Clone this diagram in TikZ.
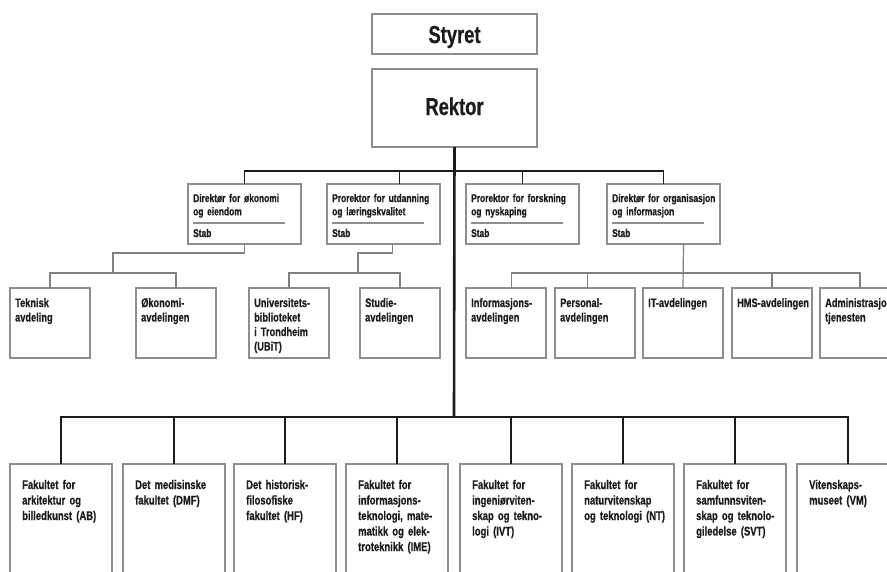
\documentclass[tikz,border=0pt]{standalone}
\usepackage{fontspec}
\newfontfamily\cond{Liberation Sans Bold}[FakeStretch=0.75,FakeBold=0.6]
\definecolor{bordergray}{HTML}{8E8E8E}
\definecolor{linegray}{HTML}{808080}
\definecolor{inkblack}{HTML}{1C1C1C}
\begin{document}
\begin{tikzpicture}[x=1pt,y=-1pt,
  box/.style={draw=bordergray, line width=1.2pt, fill=white, inner sep=0pt, outer sep=0pt, anchor=north west},
  toptext/.style={font=\cond\fontsize{24.5}{28}\selectfont, text=inkblack, anchor=base, inner sep=0pt},
  ltwo/.style={font=\cond\fontsize{11.2}{13.3}\selectfont, text=inkblack, anchor=base west, inner sep=0pt, text width=130pt, align=left},
  lthree/.style={font=\cond\fontsize{12.3}{14.5}\selectfont, text=inkblack, anchor=base west, inner sep=0pt, text width=130pt, align=left},
  lfour/.style={font=\cond\fontsize{12.6}{15.5}\selectfont, text=inkblack, anchor=base west, inner sep=0pt, text width=130pt, align=left},
  thickline/.style={line width=2.6pt, inkblack},
  midline/.style={line width=1.8pt, inkblack},
  thinline/.style={line width=1.2pt, linegray},
  sepline/.style={line width=1.2pt, bordergray}
]
\useasboundingbox (0,0) rectangle (887,571);
\clip (0,0) rectangle (887,571);

% top
\node[box, minimum width=165pt, minimum height=40pt] (styret) at (372,14) {};
\node[toptext] (styrett) at (454.5,43) {Styret};
\node[box, minimum width=165pt, minimum height=78pt] (rektor) at (372,69) {};
\node[toptext] (rektort) at (454.5,115) {Rektor};

% level 2
\foreach \n/\x/\txt in {dok/188/{Direktør for økonomi\\og eiendom},
                        pul/327/{Prorektor for utdanning\\og læringskvalitet},
                        pfn/466/{Prorektor for forskning\\og nyskaping},
                        dio/607/{Direktør for organisasjon\\og informasjon}}{
  \node[box, minimum width=113pt, minimum height=60pt] (\n) at (\x,184) {};
  \node[ltwo] (\n-t) at ([shift={(5,18)}]\n.north west) {\txt};
  \draw[sepline] ([shift={(5,39)}]\n.north west) -- ++(92,0);
  \node[ltwo] (\n-s) at ([shift={(5,53)}]\n.north west) {Stab};
}

% level 3
\foreach \n/\x/\txt in {tek/10/{Teknisk\\avdeling},
                        oko/136/{Økonomi-\\avdelingen},
                        ubit/249/{Universitets-\\biblioteket\\i Trondheim\\(UBiT)},
                        stud/360/{Studie-\\avdelingen},
                        info/466/{Informasjons-\\avdelingen},
                        pers/555/{Personal-\\avdelingen},
                        it/643/{IT-avdelingen},
                        hms/732/{HMS-avdelingen},
                        adm/820/{Administrasjons-\\tjenesten}}{
  \node[box, minimum width=80pt, minimum height=70pt] (\n) at (\x,288) {};
  \node[lthree] (\n-t) at ([shift={(5,19)}]\n.north west) {\txt};
}

% faculties
\foreach \n/\x/\txt in {ab/10/{Fakultet for\\arkitektur og\\billedkunst (AB)},
                        dmf/123/{Det medisinske\\fakultet (DMF)},
                        hf/234/{Det historisk-\\filosofiske\\fakultet (HF)},
                        ime/346/{Fakultet for\\informasjons-\\teknologi, mate-\\matikk og elek-\\troteknikk (IME)},
                        ivt/460/{Fakultet for\\ingeniørviten-\\skap og tekno-\\logi (IVT)},
                        nt/572/{Fakultet for\\naturvitenskap\\og teknologi (NT)},
                        svt/684/{Fakultet for\\samfunnsviten-\\skap og teknolo-\\giledelse (SVT)},
                        vm/797/{Vitenskaps-\\museet (VM)}}{
  \node[box, minimum width=102pt, minimum height=140pt] (\n) at (\x,464) {};
  \node[lfour] (\n-t) at ([shift={(12,25)}]\n.north west) {\txt};
}

% connectors: Rektor to faculties
\coordinate (bbus) at (454,417);
\draw[thickline] (rektor.south) -- (bbus);
\draw[thickline, line join=miter] (ab.north) |- (bbus) -| (vm.north);
\foreach \n in {dmf,hf,ime,ivt,nt,svt}{
  \draw[thickline] (\n.north) -- (\n.north |- bbus);
}

% connectors: Rektor to level 2
\coordinate (tbus) at (454,171);
\draw[midline, line join=miter] (dok.north) |- (tbus) -| (dio.north);
\draw[midline] ([xshift=16pt]pul.north) -- ++(0,-13);
\draw[midline] (pfn.north) -- ++(0,-13);

% level 2 to level 3
\coordinate (k1) at (113,273);
\draw[thinline] (dok.south) -- ++(0,9) -| (k1);
\draw[thinline] (tek.north) |- (k1) -| (oko.north);

\coordinate (k2) at (358,273);
\draw[thinline] ([xshift=9pt]pul.south) -- ++(0,9) -| (k2);
\draw[thinline] (ubit.north) |- (k2) -| (stud.north);

\coordinate (k3) at (683,273);
\draw[thinline] ([xshift=20pt]dio.south) -- (it.north);
\draw[thinline] ([xshift=5.5pt]info.north) |- (k3) -| (adm.north);
\draw[thinline] ([xshift=-7.5pt]pers.north) -- ++(0,-15);
\draw[thinline] (hms.north) -- ++(0,-15);
\end{tikzpicture}
\end{document}
